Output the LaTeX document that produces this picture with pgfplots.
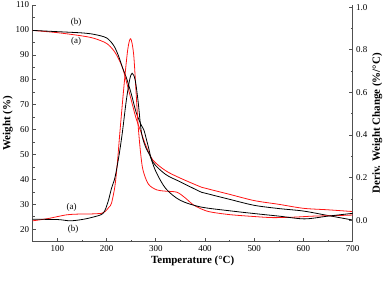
\documentclass[border=0pt]{standalone}
\usepackage{pgfplots}
\pgfplotsset{compat=1.18}
\usepackage{fontspec}
\setmainfont{Liberation Serif}
\definecolor{axgray}{RGB}{80,80,80}
\definecolor{myred}{RGB}{255,20,20}
\begin{document}
\begin{tikzpicture}
\path[use as bounding box] (-32.7bp,-39.3bp) rectangle (359.3bp,241.7bp);
\pgfplotsset{
  common/.style={
    scale only axis, width=320bp, height=236.7bp,
    xmin=50, xmax=700,
    tick align=inside,
    major tick length=3.5bp, minor tick length=2bp,
    every tick/.style={axgray, line width=0.6pt},
    axis line style={axgray, line width=0.8pt},
    tick label style={font=\fontsize{9}{10}\selectfont},
    label style={font=\fontsize{11}{12}\selectfont\bfseries},
    /pgf/number format/assume math mode=true,
  }
}
\begin{axis}[common,
  at={(0,0)}, anchor=south west,
  axis y line*=left, axis x line*=bottom,
  ymin=15, ymax=110,
  xtick={100,200,...,700}, minor xtick={50,150,...,650},
  ytick={20,30,...,110}, minor ytick={15,25,...,105},
  xlabel={Temperature (°C)}, ylabel={Weight (\%)},
  xlabel style={yshift=2bp},
  ylabel style={yshift=-4bp},
]
% red weight (a)
\addplot[myred, line width=0.8pt, smooth] coordinates {
(50,99.8)(100,98.9)(150,97.6)(175,96.6)(200,94.6)(215,91.6)(225,88.2)(233,84.5)(240,79.5)(250,72)(260,64.5)(270,59)(280,53.5)(294,47.8)(320,43.5)(350,40.5)(390,37.1)(400,36.5)(450,34)(500,31.5)(550,30)(600,28.4)(650,27.8)(700,27.1)};
% black weight (b)
\addplot[black, line width=0.8pt, smooth] coordinates {
(50,99.8)(100,99.3)(150,98.8)(175,98.2)(200,96.8)(215,93.6)(225,89.2)(233,84.5)(240,81)(250,74.5)(260,67)(270,62)(276,59.8)(285,53)(294,47)(320,42)(350,39)(390,35.1)(400,34.5)(450,32)(500,29.6)(550,28.3)(600,27.3)(650,25.5)(700,23.7)};
\node[font=\fontsize{9}{10}\selectfont] at (axis cs:138,103) {(b)};
\node[font=\fontsize{9}{10}\selectfont] at (axis cs:138,95.3) {(a)};
\node[font=\fontsize{9}{10}\selectfont] at (axis cs:129,28.6) {(a)};
\node[font=\fontsize{9}{10}\selectfont] at (axis cs:132,19.8) {(b)};
\end{axis}
\begin{axis}[common,
  at={(0,0)}, anchor=south west,
  axis y line*=right, axis x line=none,
  ymin=-0.1, ymax=1.01,
  ytick={0,0.2,...,1.0}, minor ytick={-0.1,0.1,0.3,0.5,0.7,0.9},
  yticklabel style={/pgf/number format/.cd, fixed, fixed zerofill, precision=1},
  ylabel={Deriv. Weight Change (\%/°C)},
  ylabel style={yshift=2bp},
]
% red DTG (a)
\addplot[myred, line width=0.8pt, smooth] coordinates {
(50,-0.002)(80,0.008)(119,0.026)(150,0.03)(166,0.03)(190,0.033)(197,0.041)(205,0.062)(210,0.08)(217,0.16)(222,0.27)(227,0.41)(235,0.62)(243,0.80)(249,0.852)(255,0.78)(260,0.6)(264,0.45)(269,0.32)(274,0.236)(285,0.17)(302,0.143)(320,0.137)(343,0.132)(360,0.105)(375,0.075)(390,0.056)(410,0.04)(450,0.027)(500,0.018)(537,0.013)(580,0.015)(620,0.02)(660,0.022)(700,0.025)};
% black DTG (b)
\addplot[black, line width=0.8pt, smooth] coordinates {
(50,0.005)(100,0.004)(126,-0.002)(150,0.004)(172,0.015)(193,0.033)(203,0.087)(210,0.15)(217,0.2)(225,0.3)(232,0.41)(240,0.56)(247,0.66)(252,0.69)(258,0.66)(264,0.56)(271,0.41)(280,0.34)(288,0.305)(300,0.23)(320,0.15)(349,0.095)(391,0.063)(450,0.045)(500,0.032)(550,0.02)(602,0.007)(650,0.02)(700,0.033)};
\end{axis}
\end{tikzpicture}
\end{document}
